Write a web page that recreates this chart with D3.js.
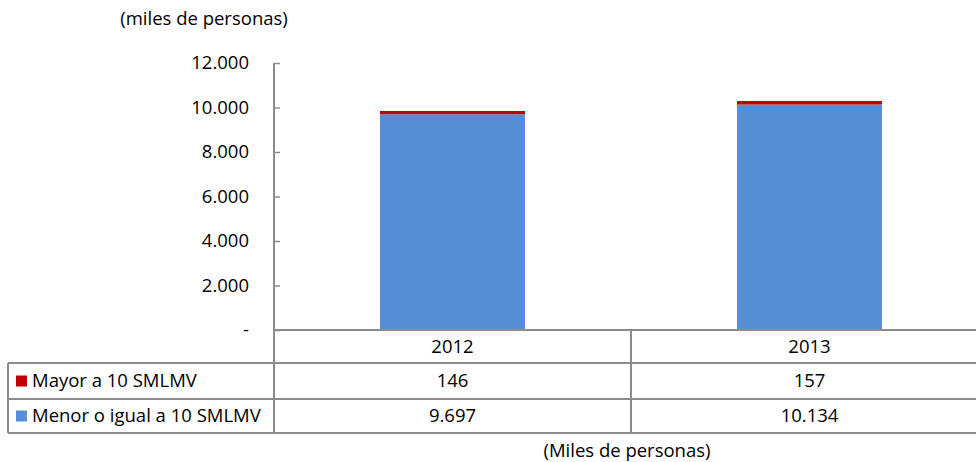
<!DOCTYPE html>
<html><head><meta charset="utf-8">
<script src="https://cdn.jsdelivr.net/npm/d3@7"></script>
<style>body{margin:0;background:#fff;} text{font-family:"Open Sans","Liberation Sans",sans-serif;fill:#000;}</style>
</head><body><svg id="c" width="976" height="462"></svg>
<script>
const categories = ["2012", "2013"];
const seriesNames = ["Menor o igual a 10 SMLMV", "Mayor a 10 SMLMV"];
const menor = [9697, 10134];
const mayor = [146, 157];
const menorLabels = ["9.697", "10.134"];
const mayorLabels = ["146", "157"];
const yTicks = [0, 2000, 4000, 6000, 8000, 10000, 12000];
const colors = {menor: "#558ED5", mayor: "#C00000"};

const svg = d3.select("#c");
const x0 = 274, xEnd = 976, yTop = 63, yBot = 330;
const step = 357;
const x = d3.scaleBand().domain(categories).range([x0, x0 + 2*step]).paddingInner(0.594).paddingOuter(0.297);
const xb = d3.scaleBand().domain(categories).range([x0, x0 + 2*step]);
const y = d3.scaleLinear().domain([0, 12000]).range([yBot, yTop]);
const fmt = v => v === 0 ? "-" : d3.format(",")(v).replace(/,/g, ".");
const grid = "#8c8c8c";
const fs = "18.5px";

svg.append("text").attr("x", 204).attr("y", 25).attr("text-anchor","middle").style("font-size",fs).text("(miles de personas)");

// y axis
const ya = svg.append("g").attr("transform", `translate(${x0},0)`)
  .call(d3.axisRight(y).tickValues(yTicks).tickSize(6).tickFormat(""));
ya.select(".domain").remove();
ya.selectAll("line").attr("stroke", grid).attr("stroke-width", 1.5);
svg.append("line").attr("x1", x0).attr("x2", x0).attr("y1", yTop).attr("y2", 433).attr("stroke", grid).attr("stroke-width", 2);
svg.selectAll(".ylab").data(yTicks).join("text").attr("class","ylab")
  .attr("x", 249).attr("y", d => y(d)).attr("dy", "0.35em").attr("text-anchor","end")
  .style("font-size",fs).text(fmt);

// bars
const stackData = categories.map((c,i)=>({cat:c, menor:menor[i], mayor:mayor[i]}));
const stack = d3.stack().keys(["menor","mayor"])(stackData);
svg.selectAll(".layer").data(stack).join("g").attr("fill", d => colors[d.key])
  .selectAll("rect").data(d => d).join("rect")
  .attr("x", d => x(d.data.cat)).attr("width", x.bandwidth())
  .attr("y", d => y(d[1])).attr("height", d => y(d[0]) - y(d[1]));

// table
const rows = [330, 363, 399, 433];
const tbl = svg.append("g").attr("stroke", grid).attr("stroke-width", 2);
tbl.append("line").attr("x1", x0).attr("x2", xEnd).attr("y1", rows[0]).attr("y2", rows[0]);
[1,2,3].forEach(i => tbl.append("line").attr("x1", 8).attr("x2", xEnd).attr("y1", rows[i]).attr("y2", rows[i]));
tbl.append("line").attr("x1", 8).attr("x2", 8).attr("y1", rows[1]).attr("y2", rows[3]);
tbl.append("line").attr("x1", xb("2013")).attr("x2", xb("2013")).attr("y1", rows[0]).attr("y2", rows[3]);

const mid = (a,b)=>(a+b)/2;
const cx = d => x(d)+x.bandwidth()/2;
svg.selectAll(".cat").data(categories).join("text").attr("x", cx)
  .attr("y", mid(rows[0],rows[1])).attr("dy","0.35em").attr("text-anchor","middle").style("font-size",fs).text(d=>d);
svg.selectAll(".may").data(categories).join("text").attr("x", cx)
  .attr("y", mid(rows[1],rows[2])).attr("dy","0.35em").attr("text-anchor","middle").style("font-size",fs).text((d,i)=>mayorLabels[i]);
svg.selectAll(".men").data(categories).join("text").attr("x", cx)
  .attr("y", mid(rows[2],rows[3])).attr("dy","0.35em").attr("text-anchor","middle").style("font-size",fs).text((d,i)=>menorLabels[i]);

// legend cells
const leg = [{name: seriesNames[1], c: colors.mayor, r:1},{name: seriesNames[0], c: colors.menor, r:2}];
leg.forEach(l => {
  const cy = mid(rows[l.r], rows[l.r+1]);
  svg.append("rect").attr("x", 16).attr("y", cy-5.5).attr("width", 11).attr("height", 11).attr("fill", l.c);
  svg.append("text").attr("x", 32).attr("y", cy).attr("dy","0.35em").style("font-size",fs).text(l.name);
});

svg.append("text").attr("x", 627).attr("y", 457).attr("text-anchor","middle").style("font-size",fs).text("(Miles de personas)");
</script></body></html>
